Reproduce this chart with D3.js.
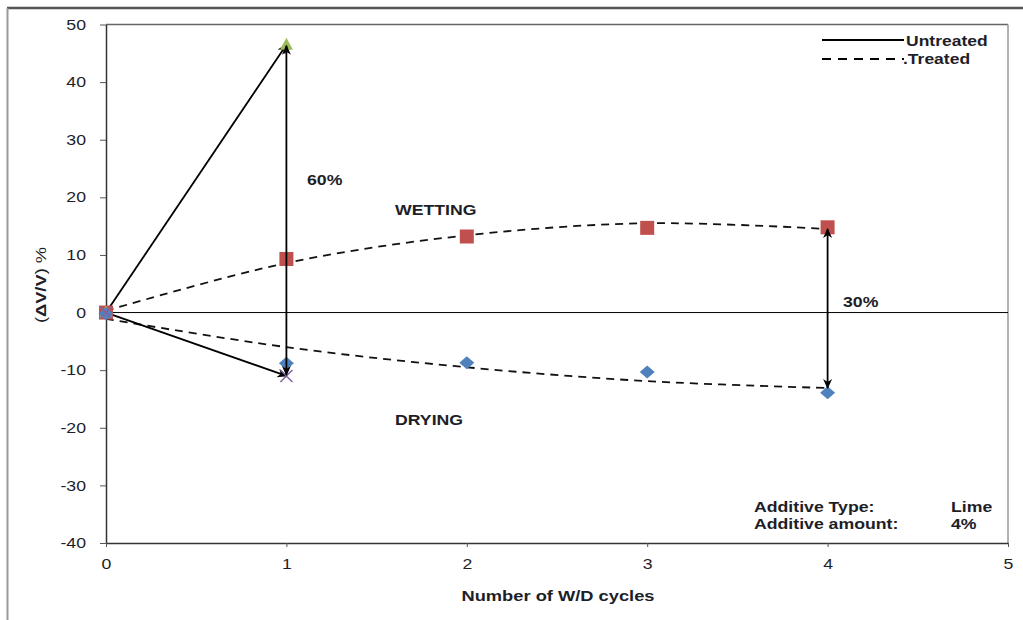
<!DOCTYPE html>
<html>
<head>
<meta charset="utf-8">
<script src="https://cdn.jsdelivr.net/npm/d3@7"></script>
<style>
  body { margin: 0; background: #fff; }
  svg { font-family: "Liberation Sans", Arial, sans-serif; }
</style>
</head>
<body>
<div id="chart"></div>
<script>
// cycles and measured values
const cycles = [0, 1, 2, 3, 4];
const treatedWetting = [0, 9.3, 13.2, 14.7, 14.8];
const treatedDrying = [-0.2, -8.8, -8.7, -10.3, -13.9];
const untreatedCycles = [0, 1];
const untreatedWetting = [0, 46.5];
const untreatedDrying = [0, -11];
// trend lines
const wettingTrend = [0.3, 8.6, 13.4, 15.5, 14.5];
const dryingTrend = [-1.1, -6.0, -9.5, -11.9, -13.1];
const xTicks = [0, 1, 2, 3, 4, 5];
const yTicks = [-40, -30, -20, -10, 0, 10, 20, 30, 40, 50];

const SX = 1.22; // the source text is a bit wider than plain Arial

const svg = d3.select("#chart").append("svg")
    .attr("width", 1023)
    .attr("height", 620);

// put a text at (px,py) stretched horizontally
function label(px, py, str, opts = {}) {
    const t = svg.append("text")
        .attr("transform", `translate(${px},${py}) scale(${opts.sx || SX},1)`)
        .attr("font-size", opts.size || 15)
        .attr("font-weight", opts.bold ? "bold" : null)
        .attr("text-anchor", opts.anchor || "start")
        .attr("fill", "#1e1e28");
    t.text(str);
    return t;
}

// outer frame
svg.append("line").attr("x1", 7).attr("x2", 1023).attr("y1", 8).attr("y2", 8)
    .attr("stroke", "#555").attr("stroke-width", 2.5);
svg.append("line").attr("x1", 7.5).attr("x2", 7.5).attr("y1", 8).attr("y2", 620)
    .attr("stroke", "#999").attr("stroke-width", 2);

const x = d3.scaleLinear().domain([0, 5]).range([106, 1008]);
const y = d3.scaleLinear().domain([-40, 50]).range([543, 24.5]);

// plot border top/right
svg.append("path")
    .attr("d", `M${x(0)},${y(50)}H${x(5)}`)
    .attr("fill", "none").attr("stroke", "#666").attr("stroke-width", 1.5);
svg.append("path")
    .attr("d", `M${x(5)},${y(50)}V${y(-40)}`)
    .attr("fill", "none").attr("stroke", "#999").attr("stroke-width", 1.5);

const defs = svg.append("defs");
defs.append("marker")
    .attr("id", "arrow")
    .attr("viewBox", "0 0 10 10")
    .attr("refX", 9).attr("refY", 5)
    .attr("markerWidth", 10).attr("markerHeight", 10)
    .attr("markerUnits", "userSpaceOnUse")
    .attr("orient", "auto-start-reverse")
    .append("path")
    .attr("d", "M0,0.5L10,5L0,9.5L3,5Z")
    .attr("fill", "#000");

// axes
const yAxis = svg.append("g")
    .attr("transform", `translate(${x(0)},0)`)
    .call(d3.axisLeft(y).tickValues(yTicks).tickFormat(d => String(d))
        .tickSize(6).tickSizeOuter(0).tickPadding(0));
const xAxis = svg.append("g")
    .attr("transform", `translate(0,${y(-40)})`)
    .call(d3.axisBottom(x).tickValues(xTicks).tickFormat(d => String(d))
        .tickSize(4).tickSizeOuter(0).tickPadding(12));
[yAxis, xAxis].forEach(a => {
    a.select(".domain").attr("stroke", "#333").attr("stroke-width", 1.5);
    a.selectAll(".tick line").attr("stroke", "#555");
    a.selectAll(".tick text")
        .attr("font-family", "Liberation Sans, Arial, sans-serif")
        .attr("font-size", 14.5)
        .attr("fill", "#1e1e28");
});
yAxis.selectAll(".tick text").attr("x", 0)
    .attr("transform", `translate(-20,0) scale(${SX},1)`);
xAxis.selectAll(".tick text")
    .attr("transform", `scale(${SX},1)`);

// zero line
svg.append("line")
    .attr("x1", x(0)).attr("x2", x(5))
    .attr("y1", y(0)).attr("y2", y(0))
    .attr("stroke", "#000").attr("stroke-width", 1);

// axis titles
label((x(0) + x(5)) / 2 + 1, 601, "Number of W/D cycles", { bold: true, anchor: "middle", size: 15 });
svg.append("text")
    .attr("transform", `translate(46,285) rotate(-90) scale(${SX},1)`)
    .attr("text-anchor", "middle")
    .attr("font-size", 15).attr("fill", "#1e1e28")
    .html('(<tspan font-weight="bold">ΔV/V</tspan>) %');

// trend lines
const trend = d3.line()
    .x((d, i) => x(cycles[i]))
    .y(d => y(d))
    .curve(d3.curveCatmullRom);
[wettingTrend, dryingTrend].forEach(t => {
    svg.append("path")
        .attr("d", trend(t))
        .attr("fill", "none")
        .attr("stroke", "#111")
        .attr("stroke-width", 1.8)
        .attr("stroke-dasharray", "8,6");
});

// untreated lines with arrows
[untreatedWetting, untreatedDrying].forEach(v => {
    svg.append("line")
        .attr("x1", x(untreatedCycles[0])).attr("y1", y(v[0]))
        .attr("x2", x(untreatedCycles[1])).attr("y2", y(v[1]))
        .attr("stroke", "#000").attr("stroke-width", 1.8)
        .attr("marker-end", "url(#arrow)");
});

// markers
svg.selectAll(".sq").data(treatedWetting).enter().append("rect")
    .attr("x", (d, i) => x(cycles[i]) - 7)
    .attr("y", d => y(d) - 7)
    .attr("width", 14).attr("height", 14)
    .attr("fill", "#C0504D");
svg.selectAll(".tri").data(untreatedWetting).enter().append("path")
    .attr("d", "M0,-7L6.5,5L-6.5,5Z")
    .attr("transform", (d, i) => `translate(${x(untreatedCycles[i])},${y(d)})`)
    .attr("fill", "#9BBB59");
svg.selectAll(".dia").data(treatedDrying).enter().append("path")
    .attr("d", "M0,-6.5L7.5,0L0,6.5L-7.5,0Z")
    .attr("transform", (d, i) => `translate(${x(cycles[i])},${y(d)})`)
    .attr("fill", "#4F81BD");
svg.selectAll(".xx").data(untreatedDrying).enter().append("path")
    .attr("d", "M-6,-6L6,6M-6,6L6,-6")
    .attr("transform", (d, i) => `translate(${x(untreatedCycles[i])},${y(d)})`)
    .attr("stroke", "#8064A2").attr("stroke-width", 1.5);

// vertical double arrows
svg.append("line")
    .attr("x1", x(1)).attr("x2", x(1))
    .attr("y1", y(untreatedWetting[1]) + 1).attr("y2", y(untreatedDrying[1]) - 1)
    .attr("stroke", "#000").attr("stroke-width", 1.8)
    .attr("marker-start", "url(#arrow)").attr("marker-end", "url(#arrow)");
svg.append("line")
    .attr("x1", x(4)).attr("x2", x(4))
    .attr("y1", y(wettingTrend[4])).attr("y2", y(dryingTrend[4]))
    .attr("stroke", "#000").attr("stroke-width", 1.8)
    .attr("marker-start", "url(#arrow)").attr("marker-end", "url(#arrow)");

// annotations
const notes = [
    { t: "60%", x: 307, y: 185 },
    { t: "30%", x: 843, y: 307 },
    { t: "WETTING", x: 395, y: 215 },
    { t: "DRYING", x: 395, y: 425 },
    { t: "Additive Type:", x: 754, y: 512 },
    { t: "Additive amount:", x: 754, y: 529 },
    { t: "Lime", x: 951, y: 512 },
    { t: "4%", x: 951, y: 529 }
];
notes.forEach(n => label(n.x, n.y, n.t, { bold: true, size: 14.5 }));

// legend
svg.append("line").attr("x1", 822).attr("x2", 904).attr("y1", 40).attr("y2", 40)
    .attr("stroke", "#000").attr("stroke-width", 2);
svg.append("line").attr("x1", 822).attr("x2", 904).attr("y1", 59).attr("y2", 59)
    .attr("stroke", "#000").attr("stroke-width", 2).attr("stroke-dasharray", "9,7");
label(906, 46, "Untreated", { size: 15.5, sx: 1.13, bold: true });
label(903, 64, ".Treated", { size: 15.5, sx: 1.13, bold: true });
</script>
</body>
</html>
